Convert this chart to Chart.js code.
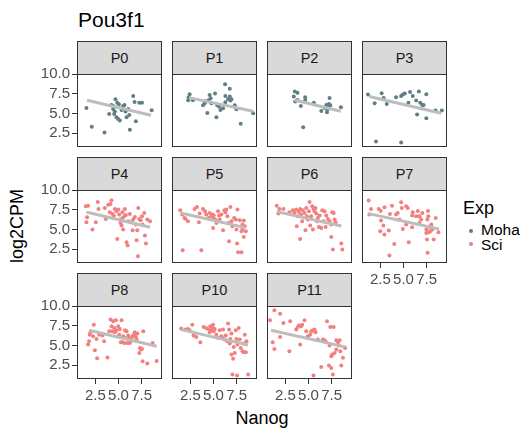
<!DOCTYPE html>
<html>
<head>
<meta charset="utf-8">
<script src="https://cdn.jsdelivr.net/npm/chart.js@4.4.1/dist/chart.umd.min.js"></script>
<style>
  body { margin: 0; background: #fff; font-family: "Liberation Sans", Arial, sans-serif; }
  #fig { position: relative; width: 523px; height: 435px; overflow: hidden; background: #fff; }
  #fig canvas { position: absolute; }
  .strip { position: absolute; box-sizing: border-box; width: 85px; height: 34px; background: #d9d9d9;
           border: 1px solid #333; display: flex; align-items: center; justify-content: center;
           font-size: 14.5px; color: #1a1a1a; }
  .txt { position: absolute; line-height: 1; white-space: nowrap; color: #000; }
  .dot { position: absolute; width: 4px; height: 4px; border-radius: 50%; }
</style>
</head>
<body>
<div id="fig">
  <div class="txt" style="left:78px; top:9px; font-size:21px;">Pou3f1</div>
  <div class="txt" style="left:212px; width:100px; text-align:center; top:409px; font-size:18px;">Nanog</div>
  <div class="txt" style="left:-33px; width:100px; text-align:center; top:217px; font-size:18px; transform:rotate(-90deg);">log2CPM</div>
  <div class="txt" style="left:463px; top:199px; font-size:18px;">Exp</div>
  <div class="dot" style="left:469px; top:229px; background:#5f7f87;"></div>
  <div class="txt" style="left:481px; top:222px; font-size:15.5px;">Moha</div>
  <div class="dot" style="left:469px; top:242px; background:#f37f7f;"></div>
  <div class="txt" style="left:481px; top:237px; font-size:15.5px;">Sci</div>
</div>
<script>
  // facet names and group
  const panels = ['P0', 'P1', 'P2', 'P3', 'P4', 'P5', 'P6', 'P7', 'P8', 'P10', 'P11'];
  const groups = ['Moha', 'Moha', 'Moha', 'Moha', 'Sci', 'Sci', 'Sci', 'Sci', 'Sci', 'Sci', 'Sci'];
  const groupColors = { Moha: '#5f7f87', Sci: '#f37f7f' };

  const xTicks = [2.5, 5.0, 7.5];
  const yTicks = [2.5, 5.0, 7.5, 10.0];

  // points per facet: [Nanog, log2CPM]
  const P0 = [[1.52,5.73],[2.10,3.32],[3.48,2.60],[3.99,4.97],[4.42,5.60],[4.67,6.83],[4.86,6.40],[5.04,6.19],[4.42,5.98],[4.60,5.26],[4.78,4.54],[4.96,4.33],[5.14,4.12],[5.33,5.47],[5.50,5.98],[5.65,6.11],[5.76,5.26],[5.87,4.54],[6.05,5.60],[6.16,4.84],[6.23,2.94],[6.59,7.25],[6.74,6.49],[6.88,4.04],[7.25,6.40],[7.54,6.40],[8.59,5.43],[4.53,4.97],[4.24,6.11]];
  const P1 = [[2.30,7.08],[2.41,7.46],[2.26,6.70],[2.77,6.70],[3.86,6.07],[4.15,6.57],[4.33,5.09],[4.47,6.70],[4.58,7.38],[4.69,6.95],[4.76,6.32],[5.16,7.55],[5.31,4.54],[5.41,6.07],[5.60,5.90],[5.74,5.47],[6.03,5.69],[6.25,8.73],[6.28,7.25],[6.28,6.45],[6.57,6.83],[6.76,8.18],[6.76,7.17],[6.83,6.66],[6.94,6.83],[7.30,6.07],[7.48,5.56],[7.95,3.70],[9.29,5.05],[4.04,6.32]];
  const P2 = [[3.51,7.80],[3.80,7.67],[3.40,7.17],[3.55,6.53],[3.80,6.74],[4.17,5.98],[4.42,3.27],[4.64,7.08],[4.64,6.74],[5.58,6.40],[6.38,5.35],[6.74,5.73],[6.92,6.11],[7.03,5.47],[7.10,6.07],[7.21,6.24],[7.28,7.00],[7.36,6.07],[7.00,5.18],[8.51,5.81]];
  const P3 = [[1.15,7.42],[1.87,6.32],[2.63,7.59],[2.85,7.00],[3.18,6.24],[2.02,1.45],[4.19,7.08],[4.74,1.33],[4.74,7.25],[4.92,7.42],[5.14,7.55],[5.53,6.40],[5.71,7.76],[6.00,7.25],[6.37,6.66],[6.47,4.88],[6.66,7.80],[6.81,6.40],[7.03,6.11],[7.18,6.11],[7.47,7.46],[7.47,4.42],[8.47,5.39],[9.15,5.39]];
  const P4 = [[1.45,7.97],[1.70,8.05],[1.59,6.57],[1.52,5.94],[2.17,5.01],[2.54,5.94],[2.75,8.52],[2.83,7.63],[3.51,7.76],[3.62,6.36],[3.88,8.18],[4.06,7.21],[4.13,8.27],[4.24,8.73],[4.35,7.00],[4.49,6.79],[4.60,7.63],[4.78,7.33],[4.86,3.82],[4.96,7.55],[5.07,6.91],[5.14,6.28],[5.33,5.52],[5.43,7.21],[5.50,5.01],[5.62,6.70],[5.69,7.63],[5.80,6.87],[5.87,3.40],[5.98,2.98],[6.05,6.07],[6.23,7.00],[6.34,5.94],[6.52,4.92],[6.59,6.28],[6.77,6.62],[6.88,5.64],[7.03,4.92],[7.14,7.76],[7.25,6.36],[6.96,3.65],[7.10,1.62],[7.39,6.19],[7.61,5.64],[7.79,7.12],[7.86,4.25],[7.97,3.23],[8.12,6.28],[8.41,6.07],[7.54,6.70],[5.43,6.49],[5.22,5.85]];
  const P5 = [[1.39,7.46],[1.60,6.91],[1.86,6.49],[2.23,6.07],[1.66,2.39],[1.95,6.40],[2.95,7.63],[3.20,7.88],[3.42,5.94],[3.50,7.04],[3.68,2.39],[3.86,7.63],[4.07,7.33],[4.22,6.91],[4.47,6.49],[4.58,7.12],[4.76,6.70],[4.87,6.91],[4.95,5.22],[5.02,6.36],[5.20,6.28],[5.31,5.85],[5.49,7.33],[5.60,6.79],[5.67,6.28],[5.85,6.91],[6.03,4.92],[6.18,7.46],[6.28,7.21],[6.39,7.55],[6.50,6.70],[6.61,5.85],[6.68,3.53],[6.83,7.88],[6.94,6.07],[7.05,5.43],[7.23,6.49],[7.41,6.28],[7.48,5.01],[7.55,3.23],[7.59,7.55],[7.66,2.13],[7.84,6.19],[8.03,2.13],[8.14,5.64],[8.28,6.15],[8.39,5.43],[8.50,4.80],[8.28,4.08],[8.03,4.80],[8.14,5.09],[5.02,6.79]];
  const P6 = [[1.56,8.05],[1.85,7.63],[1.74,7.04],[2.28,7.63],[2.93,7.21],[3.30,7.46],[3.48,7.12],[3.66,7.55],[3.73,5.43],[3.84,6.70],[3.95,7.29],[4.09,3.82],[4.09,7.63],[4.20,6.91],[4.31,6.07],[4.38,7.46],[4.57,7.12],[4.67,4.92],[4.75,7.76],[4.82,6.70],[4.93,6.28],[5.04,7.33],[5.11,8.52],[5.18,5.52],[5.29,6.70],[5.40,7.97],[5.47,5.01],[5.54,7.63],[5.65,7.33],[5.76,7.76],[5.83,7.04],[5.91,6.07],[6.01,6.49],[6.12,5.35],[6.20,6.79],[6.38,5.22],[6.49,7.46],[6.63,6.07],[6.74,7.33],[6.85,5.35],[6.92,6.79],[7.10,6.36],[7.28,6.07],[7.46,5.64],[7.57,7.21],[7.72,7.12],[7.46,4.08],[7.64,2.47],[7.83,6.28],[7.93,5.94],[8.55,3.23],[8.66,2.47]];
  const P7 = [[1.22,8.69],[1.48,7.63],[1.30,6.91],[2.31,7.63],[2.53,7.38],[2.93,7.84],[2.56,6.15],[2.81,5.52],[2.48,4.80],[2.93,4.37],[3.40,4.88],[3.47,1.71],[3.75,8.05],[3.53,7.00],[4.00,3.19],[4.19,6.91],[4.37,7.12],[4.74,8.48],[4.81,7.76],[4.55,6.28],[4.92,5.09],[5.28,7.97],[5.46,7.76],[5.28,5.64],[5.57,3.40],[5.93,6.79],[5.93,5.30],[6.00,7.21],[6.37,6.70],[6.55,7.38],[6.73,6.70],[7.03,7.12],[6.91,6.28],[6.73,5.85],[7.47,5.01],[7.65,7.38],[7.69,6.70],[7.58,6.28],[7.47,4.58],[7.76,4.67],[7.54,3.74],[7.61,2.05],[7.90,4.80],[8.12,5.01],[8.27,3.74],[8.49,6.49],[8.01,5.64],[8.78,4.67],[7.76,5.35],[7.94,5.43]];
  const P8 = [[1.70,5.14],[1.88,6.40],[1.81,5.56],[1.96,6.70],[2.25,6.19],[2.32,7.67],[2.43,4.42],[2.61,5.85],[2.68,3.40],[2.90,6.40],[3.26,6.28],[3.44,5.56],[3.80,3.49],[3.99,6.83],[4.13,8.31],[4.24,7.46],[4.31,6.83],[4.42,8.10],[4.53,7.25],[4.60,6.70],[4.71,8.22],[4.78,6.96],[4.96,7.46],[5.07,6.40],[5.14,7.12],[5.25,5.43],[5.33,8.22],[5.43,5.43],[5.50,6.19],[5.62,5.35],[5.72,5.98],[5.87,6.83],[5.98,5.35],[6.05,6.28],[6.16,5.98],[6.30,5.56],[6.41,5.77],[6.52,6.19],[6.67,6.40],[6.77,6.70],[6.88,6.11],[6.96,5.77],[7.03,6.53],[7.25,4.08],[7.32,4.71],[7.43,4.50],[7.54,4.58],[7.61,3.02],[7.68,6.83],[8.12,2.72],[8.70,5.35],[9.13,3.06],[5.69,6.96],[6.23,5.35]];
  const P10 = [[1.50,7.17],[1.97,7.04],[2.23,7.12],[2.41,6.95],[2.70,7.67],[2.84,6.28],[3.13,6.11],[3.57,5.43],[3.93,7.38],[4.22,7.21],[4.51,7.04],[4.58,6.70],[4.65,7.46],[4.76,6.95],[4.87,7.25],[4.95,7.67],[5.02,6.83],[5.13,7.12],[5.31,6.40],[5.49,5.98],[5.67,6.95],[5.85,6.19],[5.96,5.98],[6.03,7.04],[6.21,5.77],[6.32,6.28],[6.47,5.56],[6.57,7.80],[6.68,7.04],[6.76,5.26],[6.83,5.85],[6.94,6.53],[7.05,1.33],[7.19,4.84],[7.30,4.08],[7.41,6.95],[7.48,5.85],[7.55,1.20],[7.59,5.14],[7.73,7.25],[7.84,5.77],[7.95,4.71],[8.14,4.29],[8.21,5.26],[8.28,4.16],[8.39,6.40],[8.50,4.16],[8.57,5.56],[8.75,1.33],[7.12,3.32],[6.94,3.87]];
  const P11 = [[0.83,8.22],[1.30,9.49],[1.12,5.43],[1.30,4.58],[1.92,9.07],[1.92,6.11],[2.28,7.88],[2.93,4.29],[3.01,8.10],[3.66,7.04],[3.84,7.38],[3.95,7.55],[4.09,5.14],[4.20,7.46],[4.31,7.67],[4.57,8.22],[4.75,6.83],[4.93,6.19],[5.18,6.40],[5.29,6.83],[5.47,6.95],[5.54,1.20],[5.65,7.04],[5.76,6.70],[6.01,5.77],[6.38,2.30],[6.56,5.77],[6.74,5.69],[6.92,5.43],[7.00,8.10],[7.21,2.47],[7.28,5.01],[7.36,7.38],[7.46,2.17],[7.57,3.87],[7.64,1.33],[7.72,7.38],[7.83,4.08],[8.01,5.69],[8.19,5.43],[8.30,5.01],[8.37,5.69],[8.44,4.29],[8.55,2.47],[8.73,3.45],[8.95,4.71],[8.01,4.50],[7.46,3.66]];
  const points = [P0, P1, P2, P3, P4, P5, P6, P7, P8, P10, P11];

  // fitted line ends per facet
  const trendLines = [
    [[1.59,6.70],[8.51,4.80]], [[2.34,7.04],[9.29,5.30]], [[3.48,6.74],[8.48,5.30]], [[1.29,7.17],[9.08,5.05]],
    [[1.52,7.25],[8.41,5.30]], [[1.43,7.12],[8.46,5.26]], [[1.56,7.29],[8.55,5.47]], [[1.22,7.04],[8.85,5.09]],
    [[1.81,6.95],[9.13,4.92]], [[1.50,7.04],[8.75,5.09]], [[0.94,6.95],[8.95,4.84]]
  ];

  // facet grid geometry
  const colLeft = [77, 172, 267, 362];
  const rowTop = [74, 190, 306];
  const panelW = 85, panelH = 73;

  const fig = document.getElementById('fig');
  const tickFont = { family: '"Liberation Sans", Arial, sans-serif', size: 15 };

  const panelBox = {
    id: 'panelBox',
    beforeDraw(chart) {
      const a = chart.chartArea, c = chart.ctx;
      c.save();
      c.fillStyle = '#fff';
      c.fillRect(a.left, a.top, a.width, a.height);
      c.restore();
    },
    afterDraw(chart) {
      const a = chart.chartArea, c = chart.ctx;
      c.save();
      c.strokeStyle = '#333';
      c.lineWidth = 1;
      c.strokeRect(a.left + 0.5, a.top + 0.5, a.width - 1, a.height - 1);
      c.restore();
    }
  };

  function buildConfig(i) {
    const col = i % 4;
    const showY = col === 0;
    const showX = i >= 7;
    const color = groupColors[groups[i]];
    return {
      data: {
        datasets: [
          {
            type: 'line',
            data: trendLines[i].map(p => ({ x: p[0], y: p[1] })),
            borderColor: '#bdbdbd',
            borderWidth: 3,
            pointRadius: 0,
            fill: false,
            order: 0
          },
          {
            type: 'scatter',
            data: points[i].map(p => ({ x: p[0], y: p[1] })),
            backgroundColor: color,
            borderWidth: 0,
            pointRadius: 2,
            order: 1
          }
        ]
      },
      options: {
        responsive: false,
        maintainAspectRatio: false,
        animation: false,
        events: [],
        layout: { padding: 0 },
        plugins: { legend: { display: false }, tooltip: { enabled: false } },
        scales: {
          x: {
            type: 'linear',
            min: 0.5,
            max: 9.71,
            afterBuildTicks: s => { s.ticks = xTicks.map(v => ({ value: v })); },
            afterFit: s => { s.height = 32; },
            ticks: {
              display: showX,
              autoSkip: false,
              maxRotation: 0,
              minRotation: 0,
              padding: 3,
              color: '#4d4d4d',
              font: tickFont,
              callback: v => v.toFixed(1)
            },
            grid: { display: showX, drawOnChartArea: false, drawTicks: true, tickLength: 5, color: '#333' },
            border: { display: false }
          },
          y: {
            type: 'linear',
            min: 0.76,
            max: 10.04,
            afterBuildTicks: s => { s.ticks = yTicks.map(v => ({ value: v })); },
            afterFit: s => { s.width = 45; },
            ticks: {
              display: showY,
              autoSkip: false,
              padding: 2,
              color: '#4d4d4d',
              font: tickFont,
              callback: v => v.toFixed(1)
            },
            grid: { display: showY, drawOnChartArea: false, drawTicks: true, tickLength: 5, color: '#333' },
            border: { display: false }
          }
        }
      },
      plugins: [panelBox]
    };
  }

  function makeCanvas(w, h) {
    const cv = document.createElement('canvas');
    cv.width = w;
    cv.height = h;
    cv.style.width = w + 'px';
    cv.style.height = h + 'px';
    fig.appendChild(cv);
    return cv;
  }

  panels.forEach((name, i) => {
    const col = i % 4, row = Math.floor(i / 4);
    const left = colLeft[col], top = rowTop[row];

    // strip label
    const strip = document.createElement('div');
    strip.className = 'strip';
    strip.style.left = left + 'px';
    strip.style.top = (top - 33) + 'px';
    strip.textContent = name;
    fig.appendChild(strip);

    // measure margins, then redraw with exact panel size
    const w0 = 160, h0 = 140;
    let cv = makeCanvas(w0, h0);
    let chart = new Chart(cv, buildConfig(i));
    const a = chart.chartArea;
    const mL = a.left, mT = a.top, mR = w0 - a.right, mB = h0 - a.bottom;
    chart.destroy();
    cv.remove();

    cv = makeCanvas(Math.round(mL + panelW + mR), Math.round(mT + panelH + mB));
    chart = new Chart(cv, buildConfig(i));
    cv.style.left = (left - chart.chartArea.left) + 'px';
    cv.style.top = (top - chart.chartArea.top) + 'px';
  });
</script>
</body>
</html>
